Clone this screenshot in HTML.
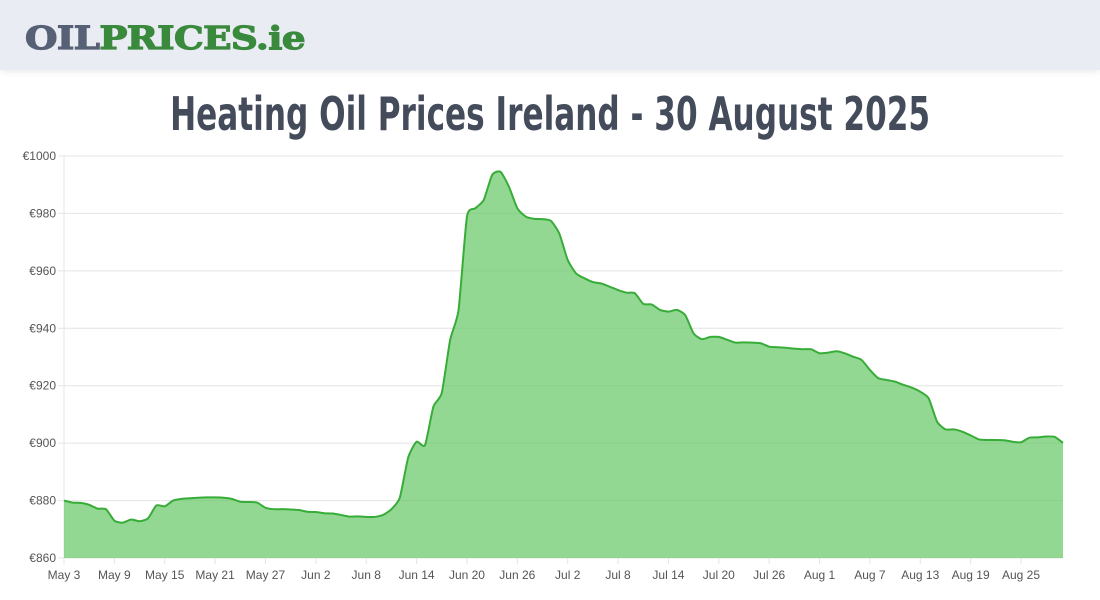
<!DOCTYPE html>
<html><head><meta charset="utf-8">
<style>
html,body{margin:0;padding:0;width:1100px;height:600px;overflow:hidden;background:#fff;font-family:"Liberation Sans",sans-serif}
#hdr{position:absolute;left:0;top:0;width:1100px;height:70px;background:#e9ecf3;box-shadow:0 2px 6px rgba(0,0,0,0.08)}
#logo{position:absolute;left:25px;top:18px;font-family:"DejaVu Serif","Liberation Serif",serif;font-weight:900;font-size:32px;line-height:40px;transform-origin:0 0;white-space:nowrap;letter-spacing:-0.5px;-webkit-text-stroke:1.2px currentColor}
#title{position:absolute;left:0;top:84px;width:1100px;text-align:center;font-family:"Liberation Sans Narrow","DejaVu Sans Condensed","Liberation Sans",sans-serif;font-weight:bold;font-size:46px;line-height:60px;color:#444c5c;white-space:nowrap}
#title span{display:inline-block;transform-origin:50% 50%}
svg{position:absolute;left:0;top:0}
</style></head><body>
<div id="hdr">
  <div id="logo"><span style="color:#576175">OIL</span><span style="color:#3a8a3e">PRICES.ie</span></div>
</div>
<div id="title"><span id="tspan">Heating Oil Prices Ireland - 30 August 2025</span></div>
<svg id="chart" width="1100" height="600"></svg>
<script>
const tickLabels = ["May 3","May 9","May 15","May 21","May 27","Jun 2","Jun 8","Jun 14","Jun 20","Jun 26","Jul 2","Jul 8","Jul 14","Jul 20","Jul 26","Aug 1","Aug 7","Aug 13","Aug 19","Aug 25"];
const yTicks = [860,880,900,920,940,960,980,1000];
const prices = [
880,879.3,879.2,878.5,877.2,877,873,872.3,873.4,872.8,873.8,878.3,878,880,880.6,880.8,881,881.1,881.1,881,880.6,879.6,879.5,879.3,877.5,877,877,876.9,876.7,876.1,876,875.6,875.5,875,874.4,874.5,874.3,874.3,875,877,881,895,900.5,
899.3,912.7,917.5,936,946.4,978.9,981.8,984.7,993.4,994.5,989.3,981.8,978.9,978.1,978,977.4,973,963.8,959.1,957.4,956.1,955.6,954.5,953.3,952.4,952.2,948.5,948.3,946.4,945.8,946.4,944.6,938.2,936.2,937,937,936,935,935.1,935,
934.8,933.6,933.4,933.2,932.9,932.7,932.7,931.3,931.5,932,931.3,930.1,929,925.5,922.6,922,921.4,920.3,919.3,917.9,915.6,907.5,904.8,904.8,904,902.7,901.3,901.1,901.1,901,900.5,900.3,901.9,902,902.3,902.2,900.1];
const tickEvery = 6;

const L=64,R=1063,T=156,B=558,yMin=860,yMax=1000;
const svg=document.getElementById('chart');
const NS='http://www.w3.org/2000/svg';
const n=prices.length;
function xs(i){return L+(R-L)*i/(n-1);}
function ys(v){return B-(v-yMin)/(yMax-yMin)*(B-T);}
function mk(t,a){const e=document.createElementNS(NS,t);for(const k in a)e.setAttribute(k,a[k]);svg.appendChild(e);return e;}

yTicks.forEach(v=>{
  const g=mk('line',{x1:58,x2:R,y1:ys(v),y2:ys(v),stroke:'#e4e4e4','stroke-width':1});
  
  
  const t=mk('text',{x:56,y:ys(v)+4,'text-anchor':'end','font-size':'12','fill':'#555','font-family':'Liberation Sans, sans-serif'});
  t.textContent='€'+v;
  
  
});
const ax=mk('line',{x1:L,x2:L,y1:T,y2:B+6,stroke:'#e4e4e4','stroke-width':1});


tickLabels.forEach((lab,k)=>{
  const i=k*tickEvery;
  const tk=mk('line',{x1:xs(i),x2:xs(i),y1:B,y2:B+6,stroke:'#e4e4e4'});
  
  
  const t=mk('text',{x:xs(i),y:B+21,'text-anchor':'middle','font-size':'12','fill':'#555','font-family':'Liberation Sans, sans-serif'});
  t.textContent=lab;
  
  
});

const pts=prices.map((v,i)=>[xs(i),ys(v)]);
const tension=0.4;
let d='M'+pts[0][0]+','+pts[0][1];
for(let i=0;i<n-1;i++){
  const p0=pts[Math.max(0,i-1)],p1=pts[i],p2=pts[i+1],p3=pts[Math.min(n-1,i+2)];
  const c1=[p1[0]+(p2[0]-p0[0])*tension/4, p1[1]+(p2[1]-p0[1])*tension/4];
  const c2=[p2[0]-(p3[0]-p1[0])*tension/4, p2[1]-(p3[1]-p1[1])*tension/4];
  d+=' C'+c1[0]+','+c1[1]+' '+c2[0]+','+c2[1]+' '+p2[0]+','+p2[1];
}
const area=mk('path',{d:d+' L'+R+','+B+' L'+L+','+B+' Z',fill:'rgba(100,200,100,0.7)',stroke:'none'});


const line=mk('path',{d:d,fill:'none',stroke:'#38ac38','stroke-width':2});



const ts=document.getElementById('tspan');
ts.style.transform='scaleX('+(760/ts.getBoundingClientRect().width)+')';
const lg=document.getElementById('logo');
lg.style.transform='scaleX('+(280/lg.getBoundingClientRect().width)+')';
</script>
</body></html>
